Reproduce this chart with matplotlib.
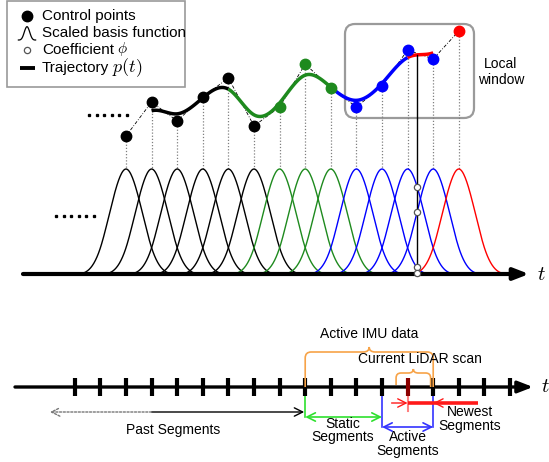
import numpy as np
import matplotlib
matplotlib.use('Agg')
import matplotlib.pyplot as plt
from matplotlib.path import Path
from matplotlib.patches import PathPatch, FancyBboxPatch

plt.rcParams['font.family'] = ['Liberation Sans', 'DejaVu Sans']
plt.rcParams['mathtext.fontset'] = 'cm'

# ---------------- data ----------------
ctrl_values = [14, 48, 29, 53, 72, 24, 43, 86, 62, 43, 64, 100, 91, 119]
ctrl_groups = ['k'] * 6 + ['g'] * 3 + ['b'] * 4 + ['r']
seg_ranges = [(1, 4, 'k'), (4, 8, 'g'), (8, 11, 'b'), (11, 12, 'r')]
t_now = 11.37
timeline_ticks = list(range(-2, 16))
imu_span = (7, 12)
lidar_span = (10.55, 11.9)
static_span = (7, 10)
active_span = (10, 12)
newest_span = (11, 13.75)
past_span = (1, 7)
past_dotted = (-2.97, 1)

legend_labels = ["Control points", "Scaled basis function", "Coefficient", "Trajectory"]
legend_math = [None, None, r'$\phi$', r'$p(t)$']

# ---------------- layout ----------------
X0, DX = 126.0, 25.6          # pixel position of knot 0, knot spacing
TRAJ_Y0 = 150.0               # pixel y of value 0 for trajectory
BASE_Y = 274.0                # basis baseline
BASIS_SCALE = 157.5           # pixels per basis unit
TL_Y = 387.0                  # bottom timeline
COL = {'k': '#000000', 'g': '#1e8a1e', 'b': '#0000ff', 'r': '#ff0000'}


def kx(k):
    return X0 + DX * np.asarray(k, dtype=float)


def ty(v):
    return TRAJ_Y0 - np.asarray(v, dtype=float)


def bspline_basis(x):
    a = np.abs(np.asarray(x, dtype=float))
    out = np.zeros_like(a)
    m1 = a < 1
    m2 = (a >= 1) & (a < 2)
    out[m1] = (4 - 6 * a[m1] ** 2 + 3 * a[m1] ** 3) / 6
    out[m2] = (2 - a[m2]) ** 3 / 6
    return out


P = np.array(ctrl_values, dtype=float)
IDX = np.arange(len(P))


def curve(t):
    t = np.atleast_1d(t)
    return (bspline_basis(t[:, None] - IDX[None, :]) * P[None, :]).sum(1)


fig = plt.figure(figsize=(5.49, 4.62), dpi=100)
ax = fig.add_axes([0, 0, 1, 1])
ax.set_xlim(0, 549)
ax.set_ylim(462, 0)
ax.axis('off')

# ---------------- legend ----------------
ax.add_patch(FancyBboxPatch((7, 1), 178, 86, boxstyle='square,pad=0',
                            fc='white', ec='#9a9a9a', lw=1.2, zorder=5))
ax.plot([27], [16], 'o', color='k', ms=7.5, zorder=6)
bx = np.linspace(-2, 2, 60)
ax.plot(27 + bx * 4.3, 40 - bspline_basis(bx) * 20, color='k', lw=0.9, zorder=6)
ax.plot([27], [50], 'o', mfc='white', mec='#555', ms=4.5, mew=0.9, zorder=6)
ax.plot([20, 35], [68, 68], color='k', lw=2.8, zorder=6, solid_capstyle='butt')
legend_texts = []
for lab, yy in zip(legend_labels, [16, 33, 50, 68]):
    legend_texts.append(ax.text(42, yy, lab, fontsize=11, va='center', ha='left', zorder=6))
fig.canvas.draw()
renderer = fig.canvas.get_renderer()
inv = ax.transData.inverted()
for txt, m, fs, dy in zip(legend_texts, legend_math, [None, None, 11, 13], [0, 0, -1, 0]):
    if m is None:
        continue
    bb = txt.get_window_extent(renderer)
    xe = inv.transform((bb.x1, bb.y0))[0]
    ax.text(xe + 3, txt.get_position()[1] + dy, m, fontsize=fs, va='center',
            ha='left', zorder=6)

# ---------------- local window ----------------
ax.add_patch(FancyBboxPatch((345, 24), 129, 94,
                            boxstyle='round,pad=0,rounding_size=10',
                            fc='none', ec='#9a9a9a', lw=1.6, zorder=1))
ax.text(501, 64, 'Local', fontsize=10, ha='center', va='center')
ax.text(501, 80, 'window', fontsize=10, ha='center', va='center')

# ---------------- dots ----------------
ax.plot(np.linspace(89, 127, 6), [115] * 6, 's', color='k', ms=1.4)
ax.plot(np.linspace(56, 94, 6), [216] * 6, 's', color='k', ms=1.4)

# ---------------- basis functions ----------------
peak_y = BASE_Y - BASIS_SCALE * 2 / 3
for i, g in enumerate(ctrl_groups):
    xx = np.linspace(i - 2, i + 2, 200)
    ax.plot(kx(xx), BASE_Y - BASIS_SCALE * bspline_basis(xx - i),
            color=COL[g], lw=1.0, zorder=2)

# dotted verticals
for i in IDX:
    ax.plot([kx(i), kx(i)], [ty(P[i]) + 5, peak_y], ls=(0, (1, 1.5)),
            color='#808080', lw=0.9, zorder=1)

# control polygon
ax.plot(kx(IDX), ty(P), color='k', lw=0.6, dashes=(4, 2, 1, 2), zorder=2)

# trajectory
for a, b, g in seg_ranges:
    tt = np.linspace(a, b, 120)
    ax.plot(kx(tt), ty(curve(tt)), color=COL[g], lw=2.5, zorder=3,
            solid_capstyle='butt')

# control points
for i, g in enumerate(ctrl_groups):
    ax.plot(kx(i), ty(P[i]), 'o', color=COL[g], ms=7.5, zorder=4)

# current time line and coefficients
ax.plot([kx(t_now)] * 2, [ty(curve(t_now))[0], BASE_Y], color='k', lw=1.0, zorder=4)
near = IDX[np.abs(IDX - t_now) < 2]
ax.plot([kx(t_now)] * len(near), BASE_Y - BASIS_SCALE * bspline_basis(t_now - near),
        'o', mfc='white', mec='#555', ms=4.5, mew=0.9, zorder=5)

# top t axis
ax.annotate('', xy=(529, BASE_Y), xytext=(23, BASE_Y),
            arrowprops=dict(arrowstyle='-|>,head_length=0.9,head_width=0.35',
                            lw=3, color='k', shrinkA=0, shrinkB=0,
                            mutation_scale=10), zorder=4)
ax.text(537, BASE_Y + 1, r'$t$', fontsize=15, ha='left', va='center')

# ---------------- bottom timeline ----------------
ax.annotate('', xy=(533, TL_Y), xytext=(15, TL_Y),
            arrowprops=dict(arrowstyle='-|>,head_length=0.9,head_width=0.35',
                            lw=2.4, color='k', shrinkA=0, shrinkB=0,
                            mutation_scale=10), zorder=3)
ax.text(541, TL_Y, r'$t$', fontsize=15, ha='left', va='center')
for k in timeline_ticks:
    c = '#8b0000' if k == 11 else 'k'
    ax.plot([kx(k)] * 2, [TL_Y - 9, TL_Y + 9], color=c, lw=3, zorder=4,
            solid_capstyle='butt')

ORANGE = '#f7a348'


def brace(x0, x1, ybase0, ybase1, ytop, h, r=6):
    xm = (x0 + x1) / 2
    verts = [(x0, ybase0), (x0, ytop + r), (x0, ytop), (x0 + r, ytop),
             (xm - r, ytop), (xm, ytop), (xm, ytop - h),
             (xm, ytop), (xm + r, ytop), (x1 - r, ytop), (x1, ytop),
             (x1, ytop + r), (x1, ybase1)]
    codes = [Path.MOVETO, Path.LINETO, Path.CURVE3, Path.CURVE3,
             Path.LINETO, Path.CURVE3, Path.CURVE3,
             Path.CURVE3, Path.CURVE3, Path.LINETO, Path.CURVE3,
             Path.CURVE3, Path.LINETO]
    ax.add_patch(PathPatch(Path(verts, codes), fc='none', ec=ORANGE, lw=1.2, zorder=5))


brace(kx(imu_span[0]), kx(imu_span[1]), TL_Y, TL_Y, 352, 5)
ax.text((kx(imu_span[0]) + kx(imu_span[1])) / 2, 334, 'Active IMU data',
        fontsize=10, ha='center', va='center')
brace(kx(lidar_span[0]), kx(lidar_span[1]), 385, TL_Y, 373, 4, r=5)
ax.text(420, 359, 'Current LiDAR scan', fontsize=10, ha='center', va='center',
        zorder=6)

# past segments
ax.annotate('', xy=(kx(past_span[1]) - 1, 412), xytext=(kx(past_span[0]), 412),
            arrowprops=dict(arrowstyle='->,head_length=0.6,head_width=0.3',
                            lw=1.0, color='k', shrinkA=0, shrinkB=0,
                            mutation_scale=10))
ax.annotate('', xy=(kx(past_dotted[0]), 412), xytext=(kx(past_dotted[1]), 412),
            arrowprops=dict(arrowstyle='->,head_length=0.6,head_width=0.3',
                            lw=1.0, color='#777', ls=(0, (1.5, 1.2)), shrinkA=0,
                            shrinkB=0, mutation_scale=10))
ax.text(173, 430, 'Past Segments', fontsize=10, ha='center', va='center')

# static segments
GREEN = '#2ee02e'
ax.plot([kx(static_span[0])] * 2, [TL_Y, 417], color=GREEN, lw=1.2, zorder=3)
ax.annotate('', xy=(kx(static_span[1]), 417), xytext=(kx(static_span[0]), 417),
            arrowprops=dict(arrowstyle='<->,head_length=0.6,head_width=0.3',
                            lw=1.2, color=GREEN, shrinkA=0, shrinkB=0,
                            mutation_scale=10))
ax.text(343, 424, 'Static', fontsize=10, ha='center', va='center')
ax.text(343, 437.5, 'Segments', fontsize=10, ha='center', va='center')

# active segments
BLUE = '#3333ff'
ax.plot([kx(active_span[0])] * 2, [TL_Y, 427], color=BLUE, lw=1.2, zorder=3)
ax.plot([kx(active_span[1])] * 2, [TL_Y, 427], color=BLUE, lw=1.2, zorder=3)
ax.annotate('', xy=(kx(active_span[1]), 427), xytext=(kx(active_span[0]), 427),
            arrowprops=dict(arrowstyle='<->,head_length=0.6,head_width=0.3',
                            lw=1.2, color=BLUE, shrinkA=0, shrinkB=0,
                            mutation_scale=10))
ax.text(408, 437, 'Active', fontsize=10, ha='center', va='center')
ax.text(408, 450.5, 'Segments', fontsize=10, ha='center', va='center')

# newest segments
RED = '#ff1a1a'
ax.plot([kx(newest_span[0])] * 2, [TL_Y, 411], color='#ff8080', lw=1.5, zorder=3)
ax.plot([kx(newest_span[0]), kx(newest_span[1])], [403, 403], color=RED, lw=2.6,
        zorder=4, solid_capstyle='butt')
ax.annotate('', xy=(kx(newest_span[0]), 403), xytext=(kx(newest_span[0]) - 16, 403),
            arrowprops=dict(arrowstyle='->,head_length=0.6,head_width=0.3',
                            lw=1.0, color=RED, shrinkA=0, shrinkB=0,
                            mutation_scale=10), zorder=5)
ax.annotate('', xy=(kx(active_span[1]), 403), xytext=(kx(active_span[1]) + 16, 403),
            arrowprops=dict(arrowstyle='->,head_length=0.6,head_width=0.3',
                            lw=1.0, color=RED, shrinkA=0, shrinkB=0,
                            mutation_scale=10), zorder=5)
ax.text(470, 412, 'Newest', fontsize=10, ha='center', va='center')
ax.text(470, 426, 'Segments', fontsize=10, ha='center', va='center')

fig.savefig('out.png', dpi=100)
